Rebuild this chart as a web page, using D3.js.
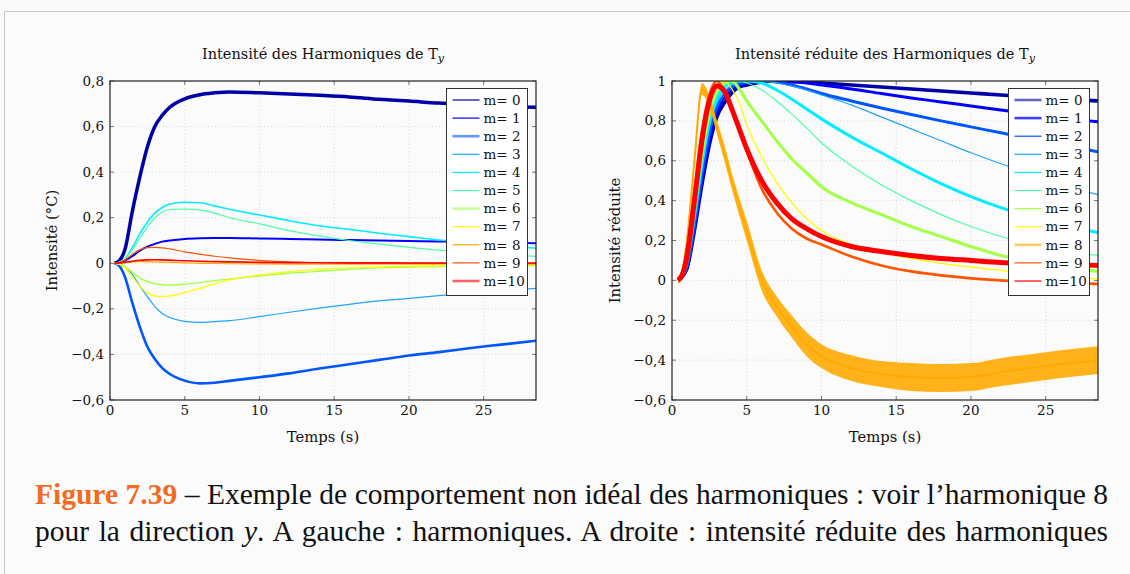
<!DOCTYPE html>
<html><head><meta charset="utf-8">
<script src="https://cdn.jsdelivr.net/npm/d3@7/dist/d3.min.js"></script>
<style>body{margin:0;background:#fafafa;} svg{display:block}</style>
</head><body>
<svg id="c" width="1130" height="574"></svg>
<script>
// ---------- DATA ----------
const legendLabels = ["m= 0","m= 1","m= 2","m= 3","m= 4","m= 5","m= 6","m= 7","m= 8","m= 9","m=10"];
const xTicks = [0, 5, 10, 15, 20, 25];
const xDomain = [0, 28.5];
const leftYTicks = [-0.6, -0.4, -0.2, 0, 0.2, 0.4, 0.6, 0.8];
const rightYTicks = [-0.6, -0.4, -0.2, 0, 0.2, 0.4, 0.6, 0.8, 1];

// Left panel: intensity of harmonics
const tLeft = [0.3, 0.6, 1, 1.5, 2, 2.5, 3, 3.5, 4, 5, 6, 7, 8, 10, 12, 14, 16, 18, 20, 22, 24, 26, 28.5];
const left0 = [0, 0.01, 0.06, 0.23, 0.38, 0.51, 0.6, 0.65, 0.685, 0.722, 0.74, 0.748, 0.752, 0.748, 0.743, 0.737, 0.73, 0.72, 0.712, 0.703, 0.697, 0.69, 0.685];
const left1 = [0, 0.003, 0.012, 0.032, 0.055, 0.073, 0.085, 0.095, 0.1, 0.107, 0.11, 0.111, 0.111, 0.109, 0.107, 0.104, 0.102, 0.1, 0.098, 0.096, 0.094, 0.091, 0.088];
const left2 = [0, -0.01, -0.06, -0.175, -0.28, -0.366, -0.42, -0.46, -0.486, -0.515, -0.527, -0.524, -0.516, -0.5, -0.483, -0.462, -0.443, -0.424, -0.405, -0.39, -0.373, -0.358, -0.34];
const left3 = [0, -0.003, -0.015, -0.05, -0.1, -0.146, -0.19, -0.22, -0.238, -0.255, -0.259, -0.256, -0.252, -0.234, -0.215, -0.197, -0.18, -0.165, -0.154, -0.142, -0.132, -0.121, -0.11];
const left4 = [0, 0.004, 0.02, 0.07, 0.13, 0.18, 0.22, 0.245, 0.26, 0.268, 0.266, 0.252, 0.237, 0.212, 0.187, 0.165, 0.149, 0.132, 0.117, 0.102, 0.092, 0.08, 0.066];
const left5 = [0, 0.004, 0.02, 0.06, 0.11, 0.16, 0.2, 0.225, 0.236, 0.238, 0.234, 0.22, 0.2, 0.173, 0.143, 0.12, 0.1, 0.085, 0.07, 0.058, 0.048, 0.04, 0.03];
const left6 = [0, -0.003, -0.015, -0.04, -0.065, -0.08, -0.09, -0.094, -0.095, -0.092, -0.085, -0.076, -0.069, -0.056, -0.044, -0.035, -0.026, -0.02, -0.016, -0.014, -0.012, -0.011, -0.01];
const left7 = [0, -0.004, -0.02, -0.06, -0.1, -0.13, -0.143, -0.146, -0.143, -0.129, -0.11, -0.09, -0.073, -0.051, -0.037, -0.026, -0.02, -0.016, -0.013, -0.011, -0.009, -0.008, -0.007];
const left8 = [0, 0.001, 0.003, 0.006, 0.008, 0.007, 0.006, 0.005, 0.004, 0.002, 0, -0.001, -0.002, -0.003, -0.0035, -0.0038, -0.004, -0.004, -0.004, -0.0038, -0.0035, -0.0034, -0.0032];
const left9 = [0, 0.003, 0.015, 0.04, 0.06, 0.069, 0.07, 0.068, 0.063, 0.05, 0.04, 0.031, 0.024, 0.013, 0.006, 0.003, 0.001, 0.0005, 0, 0, -0.001, -0.001, -0.0015];
const left10 = [0, 0.001, 0.004, 0.009, 0.013, 0.015, 0.0155, 0.015, 0.014, 0.011, 0.009, 0.0075, 0.006, 0.004, 0.003, 0.0025, 0.002, 0.0018, 0.0015, 0.0014, 0.0013, 0.0012, 0.0012];

// Right panel: reduced intensity
const tRight = [0.4, 0.7, 1, 1.5, 2, 2.5, 3, 3.5, 4, 4.5, 5, 6, 7, 8, 9, 10, 12, 14, 16, 18, 20, 22, 24, 26, 28.5];
const right0 = [0, 0.02, 0.06, 0.25, 0.48, 0.68, 0.82, 0.89, 0.94, 0.97, 0.98, 0.995, 1.0, 1.0, 0.995, 0.99, 0.98, 0.97, 0.96, 0.95, 0.94, 0.93, 0.92, 0.91, 0.9];
const right1 = [0, 0.02, 0.06, 0.26, 0.5, 0.71, 0.85, 0.92, 0.96, 0.98, 0.99, 1.0, 1.0, 0.995, 0.99, 0.98, 0.96, 0.937, 0.915, 0.895, 0.875, 0.855, 0.835, 0.815, 0.795];
const right2 = [0, 0.02, 0.07, 0.28, 0.53, 0.74, 0.87, 0.93, 0.97, 0.985, 0.995, 1.0, 0.995, 0.98, 0.96, 0.937, 0.9, 0.865, 0.832, 0.8, 0.77, 0.74, 0.71, 0.68, 0.645];
const right3 = [0, 0.02, 0.08, 0.3, 0.56, 0.77, 0.89, 0.95, 0.98, 0.995, 1.0, 1.0, 0.99, 0.975, 0.955, 0.93, 0.88, 0.82, 0.76, 0.7, 0.64, 0.585, 0.535, 0.48, 0.43];
const right4 = [0, 0.02, 0.09, 0.32, 0.58, 0.79, 0.91, 0.97, 0.99, 1.0, 1.0, 0.99, 0.955, 0.91, 0.86, 0.81, 0.72, 0.64, 0.56, 0.485, 0.42, 0.365, 0.32, 0.28, 0.24];
const right5 = [0, 0.03, 0.1, 0.34, 0.6, 0.81, 0.93, 0.98, 1.0, 1.0, 0.99, 0.955, 0.9, 0.835, 0.765, 0.69, 0.575, 0.48, 0.4, 0.33, 0.27, 0.22, 0.18, 0.15, 0.125];
const right6 = [0, 0.03, 0.11, 0.36, 0.63, 0.84, 0.95, 0.99, 1.0, 0.96, 0.9, 0.8, 0.7, 0.61, 0.54, 0.47, 0.39, 0.33, 0.27, 0.22, 0.17, 0.125, 0.095, 0.07, 0.045];
const right7 = [0, 0.03, 0.12, 0.38, 0.66, 0.87, 0.98, 1.0, 0.96, 0.89, 0.78, 0.62, 0.49, 0.39, 0.31, 0.25, 0.18, 0.14, 0.11, 0.085, 0.067, 0.05, 0.033, 0.02, 0.008];
const right8 = [0, 0.05, 0.2, 0.6, 0.96, 0.9, 0.77, 0.64, 0.5, 0.37, 0.25, 0, -0.13, -0.23, -0.32, -0.38, -0.44, -0.47, -0.485, -0.49, -0.485, -0.46, -0.44, -0.42, -0.4];
const right8Noise = [0.02, 0.02, 0.03, 0.03, 0.03, 0.03, 0.035, 0.04, 0.04, 0.045, 0.05, 0.05, 0.05, 0.055, 0.06, 0.06, 0.065, 0.065, 0.07, 0.07, 0.07, 0.07, 0.07, 0.07, 0.07];
const right9 = [0, 0.04, 0.15, 0.45, 0.75, 0.93, 1.0, 0.95, 0.86, 0.76, 0.65, 0.46, 0.34, 0.26, 0.21, 0.18, 0.12, 0.075, 0.045, 0.025, 0.01, 0, -0.006, -0.012, -0.018];
const right10 = [0, 0.03, 0.12, 0.4, 0.7, 0.9, 0.975, 0.95, 0.86, 0.76, 0.66, 0.5, 0.39, 0.31, 0.26, 0.22, 0.17, 0.145, 0.125, 0.11, 0.1, 0.09, 0.085, 0.08, 0.075];

const leftSeries = [left0,left1,left2,left3,left4,left5,left6,left7,left8,left9,left10];
const rightSeries = [right0,right1,right2,right3,right4,right5,right6,right7,right8,right9,right10];

// ---------- STYLE ----------
const colors = ["#0000a8","#0000ff","#0055ff","#1fa5ff","#00eeff","#4dffa6","#a6ff4d","#ffff00","#ffaa00","#ff5500","#ff0000"];
const leftWidths  = [3.5, 2, 2.6, 1.2, 1.6, 1.2, 1.4, 1.3, 1.2, 1.2, 1.6];
const rightWidths = [3.6, 3, 3, 1.2, 3, 1.2, 3.2, 1.3, 2, 2.6, 5];
const leftLegendW  = [1.2,1.2,2.6,1.2,1.2,1.2,2.6,1.2,1.2,1.2,2.6];
const leftLegendO  = [1,1,0.6,1,1,1,0.6,1,1,1,0.6];
const rightLegendW = [2.6,2.6,1.2,1.2,1.2,1.2,1.2,1.2,2.6,1.2,1.2];
const rightLegendO = [0.6,0.75,1,1,1,1,1,1,0.6,1,1];

const FONT = "'DejaVu Serif', serif";
const svg = d3.select("#c");

svg.append("rect").attr("x",0).attr("y",0).attr("width",1130).attr("height",574).attr("fill","#fafafa");
svg.append("rect").attr("x",4.5).attr("y",11.5).attr("width",1200).attr("height",700)
  .attr("fill","#fbfbfb").attr("stroke","#c8c8c8").attr("stroke-width",1);

function fmt(v){
  let s = d3.format("")(+v.toFixed(1));
  return s.replace(".", ",").replace("-", "\u2212");
}

function panel(cfg){
  const x = d3.scaleLinear().domain(xDomain).range([cfg.x0, cfg.x1]);
  const y = d3.scaleLinear().domain(cfg.yDomain).range([cfg.y1, cfg.y0]);
  const g = svg.append("g");
  const clipId = "clip" + cfg.id;
  svg.append("clipPath").attr("id", clipId).append("rect")
    .attr("x", cfg.x0).attr("y", cfg.y0).attr("width", cfg.x1-cfg.x0).attr("height", cfg.y1-cfg.y0);

  g.append("g").selectAll("line").data(xTicks.filter(d=>d>xDomain[0])).join("line")
    .attr("x1", d=>x(d)).attr("x2", d=>x(d)).attr("y1", cfg.y0).attr("y2", cfg.y1)
    .attr("stroke","#cfcfcf").attr("stroke-width",0.8).attr("stroke-dasharray","1,2.5");
  g.append("g").selectAll("line").data(cfg.yTicks.slice(1,-1)).join("line")
    .attr("x1", cfg.x0).attr("x2", cfg.x1).attr("y1", d=>y(d)).attr("y2", d=>y(d))
    .attr("stroke","#cfcfcf").attr("stroke-width",0.8).attr("stroke-dasharray","1,2.5");

  const tk = g.append("g").attr("stroke","#777").attr("stroke-width",1);
  xTicks.forEach(d=>{
    tk.append("line").attr("x1",x(d)).attr("x2",x(d)).attr("y1",cfg.y1).attr("y2",cfg.y1-4);
    tk.append("line").attr("x1",x(d)).attr("x2",x(d)).attr("y1",cfg.y0).attr("y2",cfg.y0+4);
  });
  cfg.yTicks.forEach(d=>{
    tk.append("line").attr("x1",cfg.x0).attr("x2",cfg.x0+4).attr("y1",y(d)).attr("y2",y(d));
    tk.append("line").attr("x1",cfg.x1).attr("x2",cfg.x1-4).attr("y1",y(d)).attr("y2",y(d));
  });

  const cg = g.append("g").attr("clip-path", `url(#${clipId})`);
  cfg.series.forEach((vals, i)=>{
    const pts = vals.map((v,k)=>[cfg.t[k], v]);
    if (cfg.noise && cfg.noise[i]) {
      const nz = cfg.noise[i];
      const area = d3.area().x(d=>x(d[0])).y0((d,k)=>y(d[1]-nz[k])).y1((d,k)=>y(d[1]+nz[k])).curve(d3.curveMonotoneX);
      cg.append("path").datum(pts).attr("d", area).attr("fill", colors[i]).attr("opacity",0.9);
    }
    const line = d3.line().x(d=>x(d[0])).y(d=>y(d[1])).curve(d3.curveMonotoneX);
    cg.append("path").datum(pts).attr("d", line).attr("fill","none")
      .attr("stroke", colors[i]).attr("stroke-width", cfg.widths[i]).attr("stroke-linejoin","round");
  });

  g.append("rect").attr("x",cfg.x0).attr("y",cfg.y0).attr("width",cfg.x1-cfg.x0).attr("height",cfg.y1-cfg.y0)
    .attr("fill","none").attr("stroke","#222").attr("stroke-width",1.2);

  g.append("g").selectAll("text").data(xTicks).join("text")
    .attr("x", d=>x(d)).attr("y", cfg.y1+15).attr("text-anchor","middle")
    .attr("font-family",FONT).attr("font-size",13.5).attr("fill","#111").text(d=>d);
  g.append("g").selectAll("text").data(cfg.yTicks).join("text")
    .attr("x", cfg.x0-6).attr("y", d=>y(d)+4.5).attr("text-anchor","end")
    .attr("font-family",FONT).attr("font-size",13.5).attr("fill","#111").text(d=>fmt(d));

  const tt = g.append("text").attr("x",(cfg.x0+cfg.x1)/2).attr("y",59).attr("text-anchor","middle")
    .attr("font-family",FONT).attr("font-size",14.5).attr("fill","#111");
  tt.append("tspan").text(cfg.title + " T");
  tt.append("tspan").attr("font-style","italic").attr("font-size",11).attr("dy",3).text("y");

  g.append("text").attr("x",(cfg.x0+cfg.x1)/2).attr("y",442).attr("text-anchor","middle")
    .attr("font-family",FONT).attr("font-size",14.8).attr("fill","#111").text("Temps (s)");
  g.append("text").attr("transform",`translate(${cfg.ylabX},${(cfg.y0+cfg.y1)/2}) rotate(-90)`)
    .attr("text-anchor","middle").attr("font-family",FONT).attr("font-size",14.8).attr("fill","#111").text(cfg.ylabel);

  const lx = cfg.legX, ly = 88.5, lw = 81, lh = 207;
  const lg = g.append("g");
  lg.append("rect").attr("x",lx).attr("y",ly).attr("width",lw).attr("height",lh)
    .attr("fill","#ffffff").attr("stroke","#333").attr("stroke-width",1);
  legendLabels.forEach((lab,i)=>{
    const yy = 100 + i*18.1;
    lg.append("line").attr("x1",lx+6).attr("x2",lx+33).attr("y1",yy).attr("y2",yy)
      .attr("stroke",colors[i]).attr("stroke-width",cfg.legW[i]).attr("opacity",cfg.legO[i]);
    lg.append("text").attr("x",lx+37).attr("y",yy+4.7).attr("font-family",FONT).attr("font-size",13.5)
      .attr("fill","#111").style("white-space","pre").text(lab);
  });
}

panel({id:"L", x0:110, x1:536, y0:81, y1:400, yDomain:[-0.6,0.8], yTicks:leftYTicks, t:tLeft,
  series:leftSeries, widths:leftWidths, title:"Intensité des Harmoniques de", ylabel:"Intensité (°C)",
  ylabX:57, legX:446.5, legW:leftLegendW, legO:leftLegendO});
panel({id:"R", x0:672, x1:1098, y0:81, y1:400, yDomain:[-0.6,1], yTicks:rightYTicks, t:tRight,
  series:rightSeries, widths:rightWidths, noise:{8:right8Noise}, title:"Intensité réduite des Harmoniques de", ylabel:"Intensité réduite",
  ylabX:620, legX:1008.5, legW:rightLegendW, legO:rightLegendO});

// caption (justified via word spacing)
const CAP = "'Liberation Serif', serif";
function captionLine(yb, parts){
  const t = svg.append("text").attr("x",35).attr("y",yb).attr("font-family",CAP).attr("font-size",29.5).attr("fill","#111");
  parts.forEach(p=>{
    const s = t.append("tspan").text(p.text);
    if (p.fill) s.attr("fill", p.fill);
    if (p.bold) s.attr("font-weight","bold");
    if (p.italic) s.attr("font-style","italic");
  });
  const target = 1073;
  const nat = t.node().getComputedTextLength();
  const nSpaces = parts.map(p=>p.text).join("").split(" ").length - 1;
  if (nat < target) t.attr("word-spacing", (target - nat)/nSpaces);
  else t.attr("textLength", target).attr("lengthAdjust","spacingAndGlyphs");
}
captionLine(504, [
  {text:"Figure 7.39", fill:"#f26b21", bold:true},
  {text:" \u2013 Exemple de comportement non idéal des harmoniques : voir l\u2019harmonique 8"}
]);
captionLine(541, [
  {text:"pour la direction "},
  {text:"y", italic:true},
  {text:". A gauche : harmoniques. A droite : intensité réduite des harmoniques"}
]);
</script>
</body></html>
